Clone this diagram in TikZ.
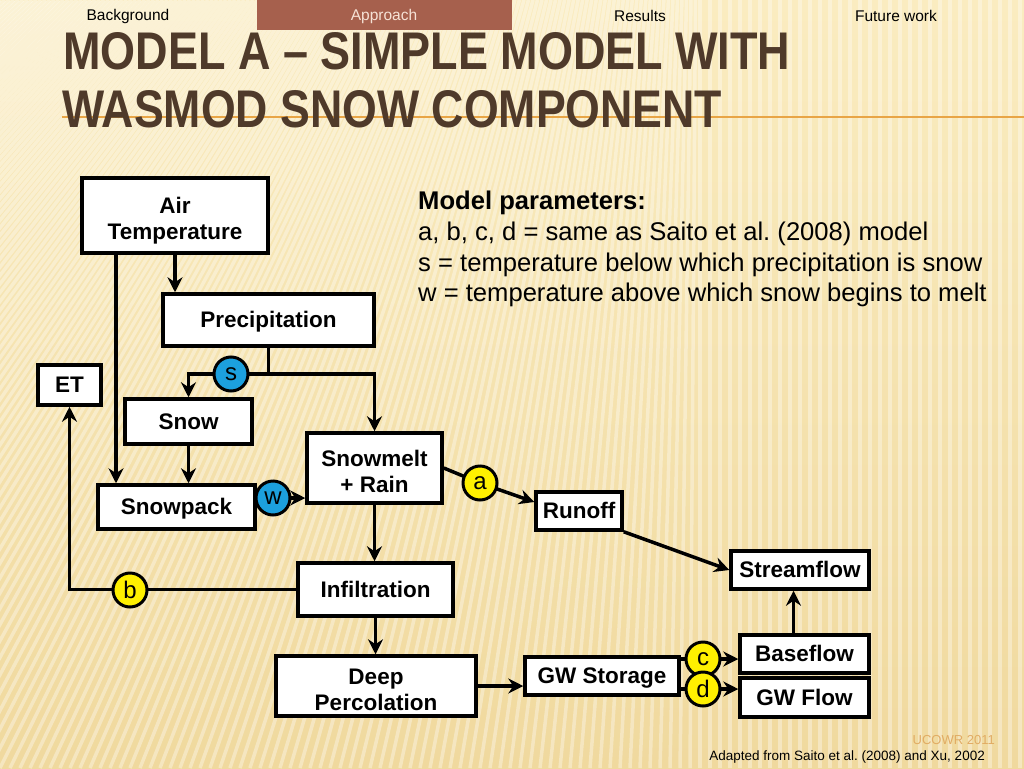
\documentclass[tikz,border=0pt]{standalone}
\usepackage{graphicx}
\usepackage{fontspec}
\setmainfont{Liberation Sans}
\frenchspacing
\usetikzlibrary{arrows.meta}
\definecolor{paper}{RGB}{250,236,192}
\definecolor{paperlow}{RGB}{240,217,158}
\definecolor{tabbrown}{RGB}{166,96,77}
\definecolor{tabtext}{RGB}{246,226,214}
\definecolor{titlebrown}{RGB}{79,58,42}
\definecolor{rulecol}{RGB}{232,165,70}
\definecolor{parblue}{RGB}{28,160,222}
\definecolor{paryellow}{RGB}{255,240,0}
\definecolor{ucowr}{RGB}{225,172,100}
\pgfdeclarelayer{bg}
\pgfdeclarelayer{lines}
\pgfsetlayers{bg,lines,main}
% two centred lines, set a little lower in their box
\newcommand{\twolines}[2]{\raisebox{-6pt}[\height][\depth]{\begin{tabular}{@{}c@{}}#1\\#2\end{tabular}}}
\begin{document}
\begin{tikzpicture}[x=1pt,y=-1pt,
  blk/.style={draw,line width=3.5pt,fill=white,inner sep=0pt,align=center,
    text height=15pt,text depth=0pt,
    font=\fontsize{22.5}{26}\selectfont\bfseries},
  twoline/.style={text height=,text depth=},
  knob/.style={circle,draw,line width=3pt,minimum size=34pt,inner sep=0pt,
    font=\fontsize{24}{24}\selectfont},
  flow/.style={line width=3.5pt,-{Stealth[length=15pt,width=15pt,inset=5pt]}},
  tab/.style={font=\fontsize{15.5}{15.5}\selectfont},
  stripe/.style={white,opacity=0.35,line width=3.5pt},
  partext/.style={anchor=base west,inner sep=0pt,font=\fontsize{25.6}{30}\selectfont}]
\useasboundingbox (0,0) rectangle (1024,768);
\begin{pgfonlayer}{bg}
  \shade[top color=paper,bottom color=paperlow] (0,0) rectangle (1024,768);
  \begin{scope}
    \clip (0,0) rectangle (1024,768);
    \foreach \i in {-900,-890,...,1030} {
      \pgfmathsetmacro{\slant}{max(0,0.5*(1-\i/700))}
      \draw[stripe] (\i,768) -- ({\i+\slant*768},0);
    }
  \end{scope}
  \fill[tabbrown] (257,0) rectangle (512,30);
  \draw[rulecol,line width=1.5pt] (62,117) -- (1024,117);
\end{pgfonlayer}
% tabs
\node[tab] (tab1) at (128,16) {Background};
\node[tab,text=tabtext] (tab2) at (384,16) {Approach};
\node[tab] (tab3) at (640,16) {Results};
\node[tab] (tab4) at (896,16) {Future work};
% title
\node[anchor=south west,inner sep=0pt,text=titlebrown] (title1) at (63,70)
  {\resizebox{727pt}{37pt}{\bfseries MODEL A – SIMPLE MODEL WITH}};
\node[anchor=south west,inner sep=0pt,text=titlebrown] (title2) at (62,128)
  {\resizebox{660pt}{37pt}{\bfseries WASMOD SNOW COMPONENT}};
% parameters
\node[partext] (par0) at (418,209) {\bfseries Model parameters:};
\node[partext] (par1) at (418,240) {a, b, c, d = same as Saito et al. (2008) model};
\node[partext] (par2) at (418,271) {s = temperature below which precipitation is snow};
\node[partext] (par3) at (418,301) {w = temperature above which snow begins to melt};
% boxes
\node[blk,twoline,minimum width=186pt,minimum height=75pt] (airtemp) at (175,215.5) {\twolines{Air}{Temperature}};
\node[blk,minimum width=211pt,minimum height=52pt] (precip) at (268.5,320) {Precipitation};
\node[blk,minimum width=63pt,minimum height=40pt] (et) at (69.5,385) {ET};
\node[blk,minimum width=127pt,minimum height=45pt] (snow) at (188.5,421.5) {Snow};
\node[blk,twoline,minimum width=135pt,minimum height=70pt] (melt) at (374.5,468) {\twolines{Snowmelt}{+ Rain}};
\node[blk,minimum width=157pt,minimum height=44pt] (snowpack) at (176.5,507) {Snowpack};
\node[blk,minimum width=86pt,minimum height=38pt] (runoff) at (579,511) {Runoff};
\node[blk,minimum width=138pt,minimum height=38pt] (stream) at (800,570) {Streamflow};
\node[blk,minimum width=155pt,minimum height=53pt] (infil) at (375.5,589.5) {Infiltration};
\node[blk,twoline,minimum width=200pt,minimum height=60pt] (deep) at (376,686) {\twolines{Deep}{Percolation}};
\node[blk,minimum width=154pt,minimum height=38pt] (gwstore) at (602,676) {GW Storage};
\node[blk,minimum width=129pt,minimum height=38pt] (base) at (804.5,654) {Baseflow};
\node[blk,minimum width=129pt,minimum height=39pt] (gwflow) at (804.5,697.5) {GW Flow};
% parameter circles
\node[knob,fill=parblue] (s) at (231,374) {s};
\node[knob,fill=parblue] (w) at (273,498) {w};
\node[knob,fill=paryellow] (a) at (480,483) {a};
\node[knob,fill=paryellow] (b) at (130,590) {b};
\node[knob,fill=paryellow] (c) at (703,659) {c};
\node[knob,fill=paryellow] (d) at (703,689) {d};
% connectors
\begin{pgfonlayer}{lines}
  \draw[flow] (airtemp.south) -- (airtemp.south |- precip.north);
  \draw[flow] ([xshift=-59pt]airtemp.south) -- ([xshift=-59pt]airtemp.south |- snowpack.north);
  \coordinate (split) at (precip.south |- s);
  \draw[line width=3.5pt] (precip.south) -- (split);
  \draw[flow] (split) -| (snow.north);
  \draw[flow] (split) -| (melt.north);
  \draw[flow] (snow.south) -- (snow.south |- snowpack.north);
  \draw[flow] (snowpack.east |- w) -- (w -| melt.west);
  \draw[flow] (melt.east) -- (a.center) -- ([yshift=9pt]runoff.west);
  \draw[flow] (runoff.south east) -- (stream.west);
  \draw[flow] (melt.south) -- (melt.south |- infil.north);
  \draw[flow] (infil.west) -- (infil.west -| et.south) -- (et.south);
  \draw[flow] (infil.south) -- (infil.south |- deep.north);
  \draw[flow] (deep.east) -- (deep.east -| gwstore.west);
  \draw[flow] (gwstore.east |- c) -- (c -| base.west);
  \draw[flow] (gwstore.east |- d) -- (d -| gwflow.west);
  \draw[flow] ([xshift=-11pt]base.north) -- ([xshift=-11pt]base.north |- stream.south);
\end{pgfonlayer}
% footer
\node[anchor=base east,inner sep=0pt,text=ucowr,font=\fontsize{13}{13}\selectfont] (conf) at (995,744) {UCOWR 2011};
\node[anchor=base east,inner sep=0pt,font=\fontsize{13.5}{14}\selectfont] (credit) at (985,760)
  {Adapted from Saito et al. (2008) and Xu, 2002};
\end{tikzpicture}
\end{document}
